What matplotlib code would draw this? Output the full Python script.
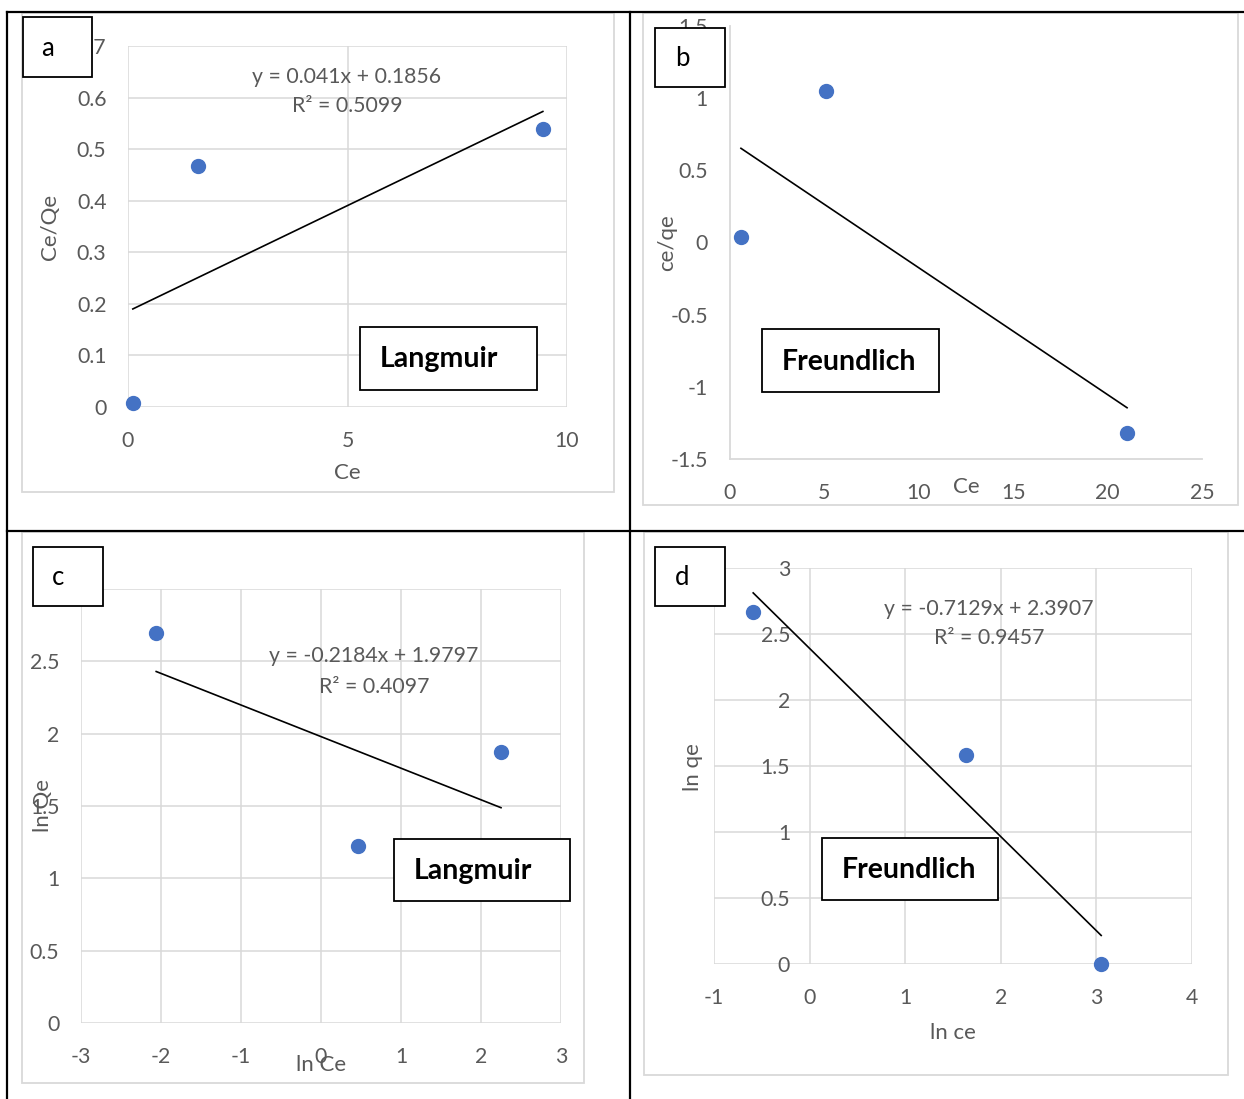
import numpy as np
import matplotlib
matplotlib.use("Agg")
import matplotlib.pyplot as plt
from matplotlib.patches import Rectangle
from matplotlib.lines import Line2D
from matplotlib.ticker import FuncFormatter

plt.rcParams['font.family'] = ['Lato', 'DejaVu Sans']

# ---------------- data ----------------
# panel a : Langmuir (Ce vs Ce/Qe)
a_ce = [0.11, 1.59, 9.45]
a_ceqe = [0.008, 0.467, 0.539]
a_coef = [0.041, 0.1856]
a_eq = "y = 0.041x + 0.1856"
a_r2 = "R² = 0.5099"

# panel b : Freundlich (Ce vs ce/qe)
b_ce = [0.58, 5.08, 21.03]
b_ceqe = [0.035, 1.049, -1.319]

# panel c : Langmuir (ln Ce vs ln Qe)
c_lnce = [-2.06, 0.46, 2.25]
c_lnqe = [2.693, 1.222, 1.872]
c_coef = [-0.2184, 1.9797]
c_eq = "y = -0.2184x + 1.9797"
c_r2 = "R² = 0.4097"

# panel d : Freundlich (ln ce vs ln qe)
d_lnce = [-0.59, 1.64, 3.05]
d_lnqe = [2.667, 1.583, 0.0]
d_coef = [-0.7129, 2.3907]
d_eq = "y = -0.7129x + 2.3907"
d_r2 = "R² = 0.9457"

a_xticks = [0, 5, 10]
a_yticks = [0, 0.1, 0.2, 0.3, 0.4, 0.5, 0.6, 0.7]
b_xticks = [0, 5, 10, 15, 20, 25]
b_yticks = [-1.5, -1, -0.5, 0, 0.5, 1, 1.5]
c_xticks = [-3, -2, -1, 0, 1, 2, 3]
c_yticks = [0, 0.5, 1, 1.5, 2, 2.5, 3]
d_xticks = [-1, 0, 1, 2, 3, 4]
d_yticks = [0, 0.5, 1, 1.5, 2, 2.5, 3]

panel_letters = ["a", "b", "c", "d"]
model_names = ["Langmuir", "Freundlich", "Langmuir", "Freundlich"]

# ---------------- layout helpers ----------------
W, H = 1244, 1099
fig = plt.figure(figsize=(W / 100, H / 100), dpi=100)

def fx(x):
    return x / W

def fy(y):
    return 1 - y / H

def axes_px(l, t, r, b):
    return fig.add_axes([fx(l), fy(b), (r - l) / W, (b - t) / H])

TICK = '#595959'
GRID = '#d9d9d9'
BLUE = '#4472C4'

def fmt_fn(v, p):
    return f"{v:g}"

fmt = FuncFormatter(fmt_fn)

def setup(ax, xlim, ylim, xt, yt, grid=True, xpad=17, ypad=15.5):
    ax.set_xlim(*xlim)
    ax.set_ylim(*ylim)
    ax.set_xticks(xt)
    ax.set_yticks(yt)
    ax.xaxis.set_major_formatter(fmt)
    ax.yaxis.set_major_formatter(fmt)
    ax.tick_params(axis='x', length=0, labelsize=15.3, labelcolor=TICK, pad=xpad)
    ax.tick_params(axis='y', length=0, labelsize=15.3, labelcolor=TICK, pad=ypad)
    for s in ax.spines.values():
        s.set_visible(False)
    if grid:
        ax.grid(True, color=GRID, lw=1.1)
        ax.set_axisbelow(True)
    ax.patch.set_alpha(0)

def scatter_trend(ax, x, y, coef=None):
    x = np.asarray(x, float)
    y = np.asarray(y, float)
    if coef is None:
        coef = np.polyfit(x, y, 1)
    xs = np.array([x.min(), x.max()])
    ax.plot(xs, coef[0] * xs + coef[1], color='black', lw=1.2, zorder=3,
            clip_on=False)
    ax.plot(x, y, 'o', color=BLUE, ms=10, mec=BLUE, zorder=4, clip_on=False)

def ftext(x, y, s, **kw):
    kw.setdefault('color', TICK)
    kw.setdefault('fontsize', 15.3)
    kw.setdefault('ha', 'center')
    kw.setdefault('va', 'center')
    fig.text(fx(x), fy(y), s, **kw)

def box(l, t, r, b, text, bold=False, tx=None, size=18.5):
    rect = Rectangle((fx(l), fy(b)), (r - l) / W, (b - t) / H,
                     transform=fig.transFigure, facecolor='white',
                     edgecolor='black', lw=1.3, zorder=5)
    fig.add_artist(rect)
    fig.text(fx(l + (tx if tx is not None else 20)), fy((t + b) / 2 + 1), text,
             ha='left', va='center', fontsize=size, color='black',
             fontweight='bold' if bold else 'normal', zorder=6)

def chart_area(l, t, r, b):
    rect = Rectangle((fx(l), fy(b)), (r - l) / W, (b - t) / H,
                     transform=fig.transFigure, facecolor='none',
                     edgecolor=GRID, lw=1.3, zorder=-1)
    fig.add_artist(rect)

# chart areas
chart_area(22, 13, 614, 492)
chart_area(643, 13, 1238, 505)
chart_area(22, 532, 584, 1083)
chart_area(644, 532, 1228, 1075)

# table lines
for (x0, y0, x1, y1) in [(7, 12, 1244, 12), (7, 12, 7, 1099),
                         (630, 12, 630, 1099), (7, 530.5, 1244, 530.5)]:
    fig.add_artist(Line2D([fx(x0), fx(x1)], [fy(y0), fy(y1)],
                          transform=fig.transFigure, color='black', lw=1.6,
                          zorder=7))

# ---------------- panel a ----------------
axa = axes_px(128, 46, 567, 407)
setup(axa, (0, 10), (0, 0.7), a_xticks, a_yticks)
scatter_trend(axa, a_ce, a_ceqe, a_coef)
ftext(347, 77, a_eq)
ftext(347, 106, a_r2)
ftext(347, 473, "Ce", fontsize=16)
ftext(50, 227, "Ce/Qe", fontsize=16, rotation=90)

# ---------------- panel b ----------------
axb = axes_px(730, 26, 1202, 459)
setup(axb, (0, 25), (-1.5, 1.5), b_xticks, b_yticks, grid=False,
      xpad=17, ypad=16)
for side in ('left', 'bottom'):
    axb.spines[side].set_visible(True)
    axb.spines[side].set_color(GRID)
    axb.spines[side].set_linewidth(1.3)
scatter_trend(axb, b_ce, b_ceqe)
ftext(966, 487, "Ce", fontsize=16)
ftext(667, 243, "ce/qe", fontsize=16, rotation=90)

# ---------------- panel c ----------------
axc = axes_px(81, 589, 561, 1023)
setup(axc, (-3, 3), (0, 3), c_xticks, c_yticks)
scatter_trend(axc, c_lnce, c_lnqe, c_coef)
ftext(374, 656, c_eq)
ftext(374, 687, c_r2)
ftext(321, 1065, "ln Ce", fontsize=16)
ftext(43, 806, "ln Qe", fontsize=16, rotation=90)

# ---------------- panel d ----------------
axd = axes_px(714, 568, 1192, 964)
setup(axd, (-1, 4), (0, 3), d_xticks, d_yticks, ypad=14)
axd.spines['left'].set_position(('data', 0))
scatter_trend(axd, d_lnce, d_lnqe, d_coef)
ftext(989, 609, d_eq)
ftext(989, 638, d_r2)
ftext(953, 1033, "ln ce", fontsize=16)
ftext(693, 767, "ln qe", fontsize=16, rotation=90)

# ---------------- label boxes ----------------
box(23, 17, 92, 77, panel_letters[0], tx=18)
box(655, 28, 725, 87, panel_letters[1], tx=20)
box(33, 547, 103, 606, panel_letters[2], tx=19)
box(655, 547, 725, 606, panel_letters[3], tx=20)

box(360, 327, 537, 390, model_names[0], bold=True, size=20.5)
box(762, 329, 939, 392, model_names[1], bold=True, size=20.5)
box(394, 839, 570, 901, model_names[2], bold=True, size=20.5)
box(822, 838, 998, 900, model_names[3], bold=True, size=20.5)

fig.savefig("out.png", dpi=100, facecolor='white')
